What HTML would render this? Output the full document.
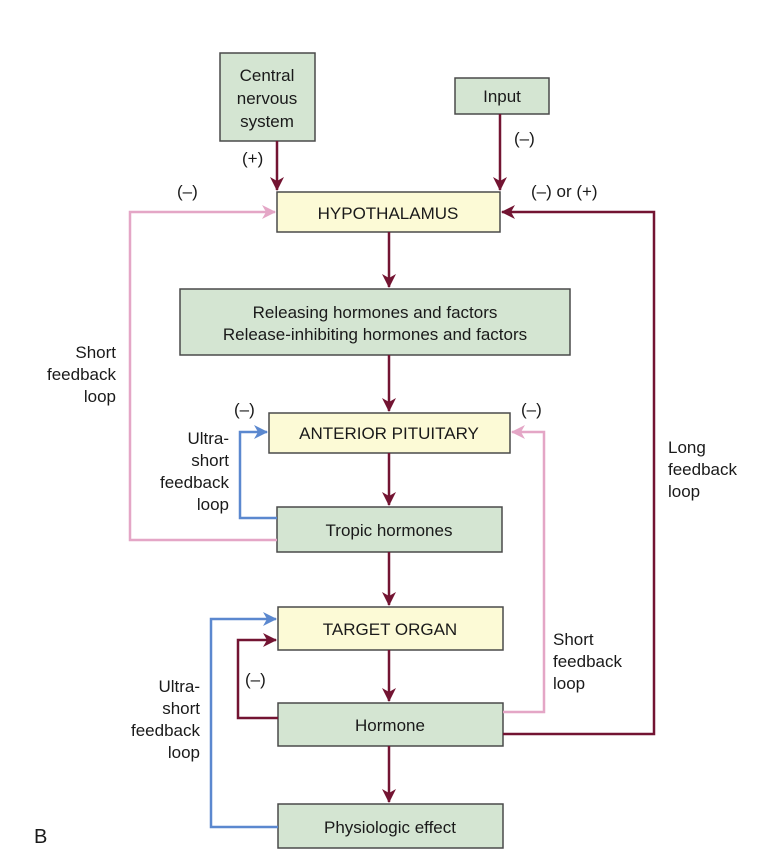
<!DOCTYPE html>
<html><head><meta charset="utf-8"><style>
html,body{margin:0;padding:0;background:#fff;}
svg{display:block;}
text{font-family:"Liberation Sans",Arial,sans-serif;font-size:17px;fill:#1a1a1a;}
.g{fill:#d4e5d2;stroke:#4a4a4a;stroke-width:1.5;}
.y{fill:#fcfad6;stroke:#4a4a4a;stroke-width:1.5;}
.r{stroke:#731432;stroke-width:2.5;fill:none;}
.p{stroke:#e4a6c6;stroke-width:2.5;fill:none;}
.b{stroke:#5b88cf;stroke-width:2.5;fill:none;}
</style></head><body>
<svg width="774" height="858" viewBox="0 0 774 858" xmlns="http://www.w3.org/2000/svg">
<defs>
<marker id="ar" markerWidth="14" markerHeight="14" refX="13" refY="7" orient="auto" markerUnits="userSpaceOnUse"><path d="M0,0 L14,7 L0,14 L4,7 z" fill="#731432"/></marker>
<marker id="ap" markerWidth="14" markerHeight="14" refX="13" refY="7" orient="auto" markerUnits="userSpaceOnUse"><path d="M0,0 L14,7 L0,14 L4,7 z" fill="#e4a6c6"/></marker>
<marker id="ab" markerWidth="14" markerHeight="14" refX="13" refY="7" orient="auto" markerUnits="userSpaceOnUse"><path d="M0,0 L14,7 L0,14 L4,7 z" fill="#5b88cf"/></marker>
</defs>
<rect class="g" x="220" y="53" width="95" height="88"/>
<rect class="g" x="455" y="78" width="94" height="36"/>
<rect class="y" x="277" y="192" width="223" height="40"/>
<rect class="g" x="180" y="289" width="390" height="66"/>
<rect class="y" x="269" y="413" width="241" height="40"/>
<rect class="g" x="277" y="507" width="225" height="45"/>
<rect class="y" x="278" y="607" width="225" height="43"/>
<rect class="g" x="278" y="703" width="225" height="43"/>
<rect class="g" x="278" y="804" width="225" height="44"/>
<line class="r" x1="277" y1="141" x2="277" y2="190" marker-end="url(#ar)"/>
<line class="r" x1="500" y1="114" x2="500" y2="190" marker-end="url(#ar)"/>
<line class="r" x1="389" y1="232" x2="389" y2="287" marker-end="url(#ar)"/>
<line class="r" x1="389" y1="355" x2="389" y2="411" marker-end="url(#ar)"/>
<line class="r" x1="389" y1="453" x2="389" y2="505" marker-end="url(#ar)"/>
<line class="r" x1="389" y1="552" x2="389" y2="605" marker-end="url(#ar)"/>
<line class="r" x1="389" y1="650" x2="389" y2="701" marker-end="url(#ar)"/>
<line class="r" x1="389" y1="746" x2="389" y2="802" marker-end="url(#ar)"/>
<polyline class="p" points="277,540 130,540 130,212 275,212" marker-end="url(#ap)"/>
<polyline class="b" points="277,518 240,518 240,432 267,432" marker-end="url(#ab)"/>
<polyline class="p" points="503,712 544,712 544,432 512,432" marker-end="url(#ap)"/>
<polyline class="r" points="503,734 654,734 654,212 502,212" marker-end="url(#ar)"/>
<polyline class="r" points="278,718 238,718 238,640 276,640" marker-end="url(#ar)"/>
<polyline class="b" points="278,827 211,827 211,619 276,619" marker-end="url(#ab)"/>
<text x="267" y="81" text-anchor="middle">Central</text>
<text x="267" y="104" text-anchor="middle">nervous</text>
<text x="267" y="127" text-anchor="middle">system</text>
<text x="502" y="102" text-anchor="middle">Input</text>
<text x="388" y="219" text-anchor="middle">HYPOTHALAMUS</text>
<text x="375" y="318" text-anchor="middle">Releasing hormones and factors</text>
<text x="375" y="340" text-anchor="middle">Release-inhibiting hormones and factors</text>
<text x="389" y="439" text-anchor="middle">ANTERIOR PITUITARY</text>
<text x="389" y="536" text-anchor="middle">Tropic hormones</text>
<text x="390" y="635" text-anchor="middle">TARGET ORGAN</text>
<text x="390" y="731" text-anchor="middle">Hormone</text>
<text x="390" y="833" text-anchor="middle">Physiologic effect</text>
<text x="242" y="164">(+)</text>
<text x="514" y="144">(–)</text>
<text x="531" y="197">(–) or (+)</text>
<text x="177" y="197">(–)</text>
<text x="234" y="415">(–)</text>
<text x="521" y="415">(–)</text>
<text x="245" y="685">(–)</text>
<text x="116" y="358" text-anchor="end">Short</text>
<text x="116" y="380" text-anchor="end">feedback</text>
<text x="116" y="402" text-anchor="end">loop</text>
<text x="229" y="444" text-anchor="end">Ultra-</text>
<text x="229" y="466" text-anchor="end">short</text>
<text x="229" y="488" text-anchor="end">feedback</text>
<text x="229" y="510" text-anchor="end">loop</text>
<text x="668" y="453">Long</text>
<text x="668" y="475">feedback</text>
<text x="668" y="497">loop</text>
<text x="553" y="645">Short</text>
<text x="553" y="667">feedback</text>
<text x="553" y="689">loop</text>
<text x="200" y="692" text-anchor="end">Ultra-</text>
<text x="200" y="714" text-anchor="end">short</text>
<text x="200" y="736" text-anchor="end">feedback</text>
<text x="200" y="758" text-anchor="end">loop</text>
<text x="34" y="843" style="font-size:20px">B</text>
</svg>
</body></html>
